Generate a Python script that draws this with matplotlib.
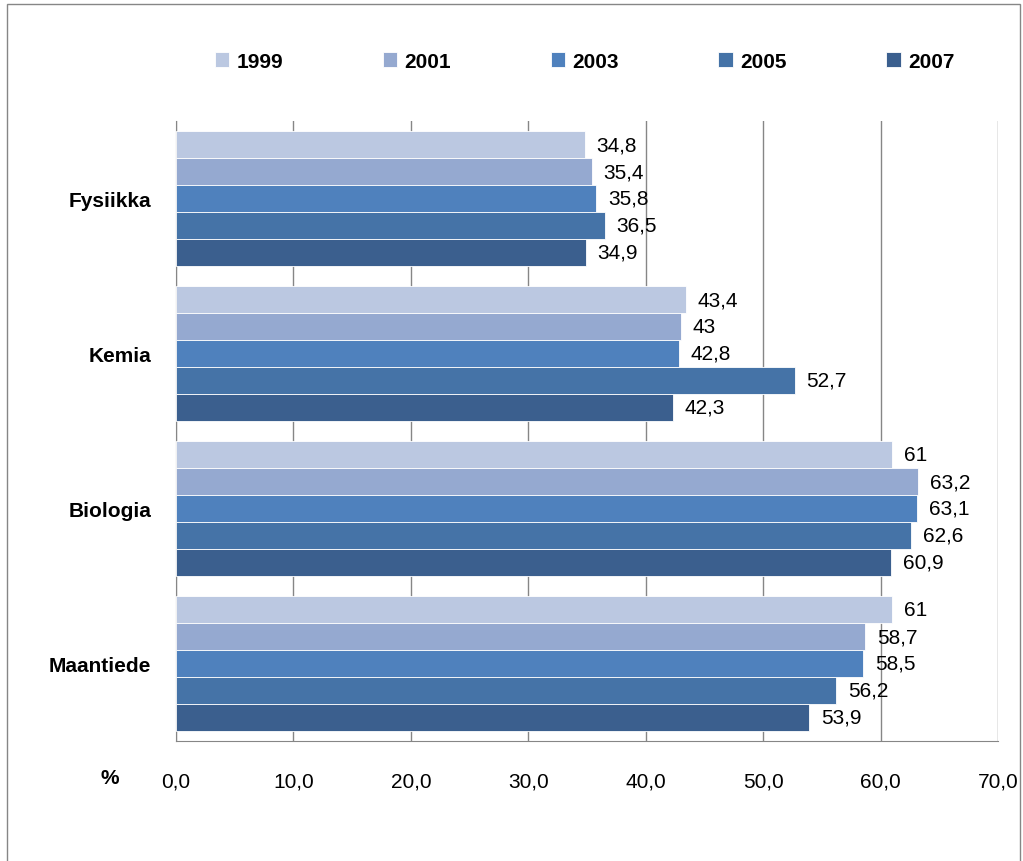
import matplotlib.pyplot as plt
from matplotlib.patches import Rectangle
import numpy as np

plt.rcParams['font.family'] = ['Liberation Sans', 'DejaVu Sans']

subjects = ['Fysiikka', 'Kemia', 'Biologia', 'Maantiede']
years = ['1999', '2001', '2003', '2005', '2007']
values = {
    '1999': [34.8, 43.4, 61.0, 61.0],
    '2001': [35.4, 43.0, 63.2, 58.7],
    '2003': [35.8, 42.8, 63.1, 58.5],
    '2005': [36.5, 52.7, 62.6, 56.2],
    '2007': [34.9, 42.3, 60.9, 53.9],
}
colors = ['#BBC8E1', '#95A9D0', '#4F81BD', '#4573A7', '#3B5F8E']


def fmt(v):
    s = f'{v:.1f}'.replace('.', ',')
    if s.endswith(',0'):
        s = s[:-2]
    return s


fig = plt.figure(figsize=(10.23, 8.62), dpi=100)
ax = fig.add_axes([176 / 1023, 1 - 742 / 862, (998 - 176) / 1023, 620 / 862])

bar_h = 0.173
y = np.arange(len(subjects))
for j, yr in enumerate(years):
    pos = y - 2 * bar_h + j * bar_h
    ax.barh(pos, values[yr], height=bar_h, color=colors[j], label=yr,
            edgecolor='white', linewidth=0.6, zorder=3)
    for p, v in zip(pos, values[yr]):
        ax.text(v + 1.0, p, fmt(v), va='center', ha='left', fontsize=15)

ax.set_xlim(0, 70)
ax.set_ylim(len(subjects) - 0.5, -0.5)
ax.set_xticks(np.arange(0, 71, 10))
ax.set_xticklabels([f'{t:.1f}'.replace('.', ',') for t in np.arange(0, 71, 10)], fontsize=15)
ax.set_yticks(y)
ax.set_yticklabels(subjects, fontsize=15, fontweight='bold')
ax.tick_params(axis='y', length=0, pad=18)
ax.tick_params(axis='x', length=0, pad=22)
ax.grid(axis='x', color='#868686', linewidth=1, zorder=0)
for s in ['top', 'right']:
    ax.spines[s].set_visible(False)
for s in ['left', 'bottom']:
    ax.spines[s].set_color('#868686')

fig.text(110 / 1023, 1 - 779 / 862, '%', fontsize=15, fontweight='bold',
         ha='center', va='center')

leg = fig.legend(loc='center', bbox_to_anchor=(0.5715, 1 - 62 / 862), ncol=5,
                 frameon=False, handlelength=0.7, handleheight=0.7,
                 handletextpad=0.35, columnspacing=4.77, prop={'size': 15, 'weight': 'bold'})

fig.patches.append(Rectangle((7 / 1023, -0.1), (1020 - 7) / 1023, 1.1 - 5 / 862,
                             transform=fig.transFigure, fill=False,
                             edgecolor='#868686', linewidth=1))

fig.savefig('out.png', dpi=100)
